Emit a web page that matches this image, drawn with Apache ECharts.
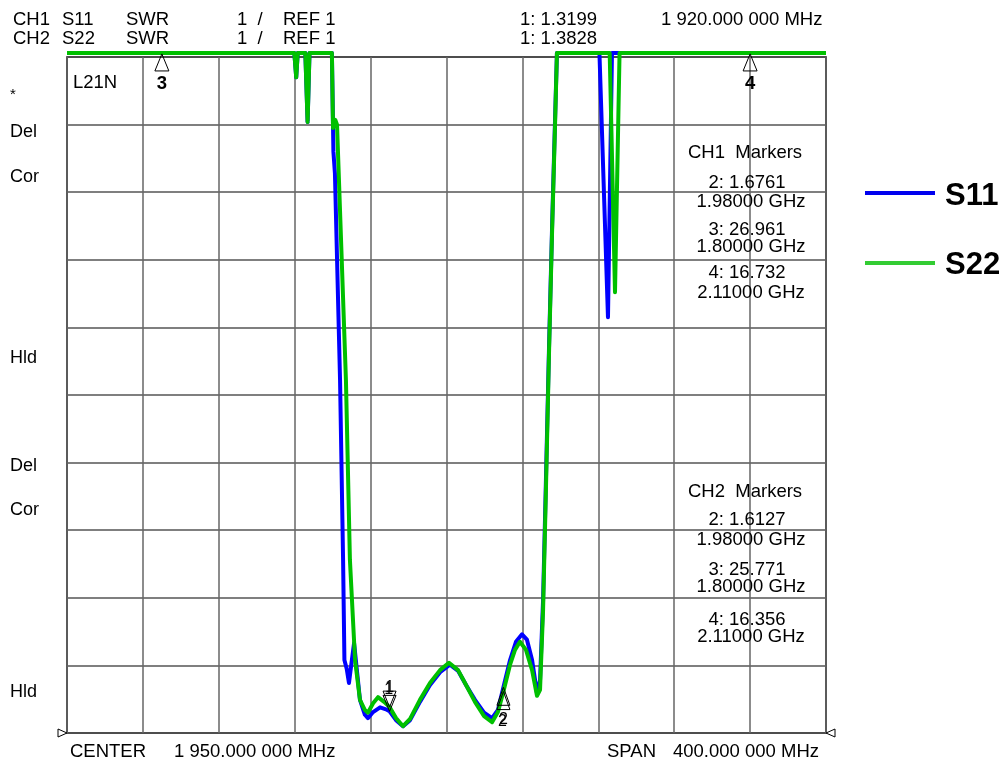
<!DOCTYPE html>
<html>
<head>
<meta charset="utf-8">
<script src="https://cdn.jsdelivr.net/npm/echarts@6/dist/echarts.min.js"></script>
<style>
  html, body { margin: 0; background: #fff; }
  #chart { width: 1004px; height: 763px; }
</style>
</head>
<body>
<div id="chart"></div>
<script>
// frequency axis (MHz) and SWR axis
var freqStart = 1750, freqStop = 2150, freqStep = 40;
var swrRef = 1, swrTop = 11, swrStep = 1;
var swrClip = 11.06; // analyzer draws off-scale values at the top edge

// S11 trace: frequency (MHz) / SWR
var s11Freq = [1750, 1869.8, 1870.8, 1871.6, 1875.6, 1876.8, 1877.8, 1889.6, 1890.4, 1891.2,
  1893.9, 1895.5, 1896.2, 1897.4, 1898.6, 1900.0, 1901.3, 1904.4, 1907.0, 1908.6, 1911.3,
  1915.0, 1918.1, 1920.0, 1923.4, 1927.1, 1930.8, 1936.0, 1941.3, 1946.6, 1951.8, 1956.1,
  1960.3, 1965.0, 1969.8, 1974.0, 1977.1, 1980.0, 1983.5, 1986.6, 1989.8, 1992.4, 1995.1,
  1997.7, 1999.3, 2000.9, 2002.4, 2004.0, 2005.6, 2007.2, 2008.2, 2030.6, 2035.1, 2037.2, 2150];
var s11Swr = [11.06, 11.06, 10.70, 11.06, 11.06, 10.04, 11.06, 11.06, 9.6, 9.28,
  6.22, 3.56, 2.08, 1.95, 1.74, 2.05, 2.33, 1.49, 1.27, 1.22, 1.31,
  1.38, 1.35, 1.3199, 1.19, 1.10, 1.19, 1.46, 1.71, 1.90, 2.01, 1.92,
  1.71, 1.49, 1.30, 1.22, 1.34, 1.6761, 2.08, 2.35, 2.46, 2.38, 2.08,
  1.59, 1.78, 2.97, 4.74, 6.67, 8.44, 10.07, 11.06, 11.06, 7.15, 11.06, 11.06];

// S22 trace: frequency (MHz) / SWR
var s22Freq = [1750, 1869.8, 1870.8, 1871.6, 1875.6, 1876.8, 1877.8, 1889.6, 1890.2, 1891.0,
  1891.4, 1892.3, 1897.0, 1899.1, 1901.8, 1904.4, 1907.0, 1908.6, 1911.3, 1913.9, 1917.1,
  1920.0, 1923.4, 1927.1, 1930.8, 1936.0, 1941.3, 1946.6, 1951.3, 1956.1, 1960.3, 1965.0,
  1969.8, 1974.0, 1977.1, 1980.0, 1983.5, 1986.1, 1988.7, 1991.9, 1995.1, 1997.7, 1999.3,
  2000.9, 2002.4, 2004.0, 2005.6, 2007.2, 2008.2, 2036.0, 2038.8, 2041.2, 2150];
var s22Swr = [11.06, 11.06, 10.70, 11.06, 11.06, 10.04, 11.06, 11.06, 9.95, 9.95,
  10.07, 10.0, 6.22, 3.56, 2.08, 1.49, 1.34, 1.30, 1.44, 1.53, 1.46,
  1.3828, 1.22, 1.10, 1.21, 1.49, 1.74, 1.93, 2.04, 1.93, 1.71, 1.46,
  1.25, 1.16, 1.31, 1.6127, 2.01, 2.23, 2.35, 2.23, 1.93, 1.55, 1.64,
  2.82, 4.59, 6.59, 8.37, 9.99, 11.06, 11.06, 7.52, 11.06, 11.06];

// markers: number, frequency, CH1 value, CH2 value
var markerNo = [1, 2, 3, 4];
var markerFreq = [1920, 1980, 1800, 2110];
var ch1Marker = [1.3199, 1.6761, 26.961, 16.732];
var ch2Marker = [1.3828, 1.6127, 25.771, 16.356];

var headerRow1 = ['CH1', 'S11', 'SWR', '1  /', 'REF 1', '1: 1.3199', '1 920.000 000 MHz'];
var headerRow2 = ['CH2', 'S22', 'SWR', '1  /', 'REF 1', '1: 1.3828'];
var sideLabels = ['*', 'Del', 'Cor', 'Hld', 'Del', 'Cor', 'Hld'];
var footer = ['CENTER', '1 950.000 000 MHz', 'SPAN', '400.000 000 MHz'];

function zip(xs, ys) {
  return xs.map(function (x, i) { return [x, ys[i]]; });
}
function clip(v) { return Math.min(v, swrClip); }

var FONT = '"Liberation Sans", Arial, sans-serif';
var chart = echarts.init(document.getElementById('chart'));

chart.setOption({
  backgroundColor: '#fff',
  animation: false,
  grid: { left: 67, right: 178, top: 57, bottom: 30, show: true, borderColor: '#000', borderWidth: 1.5 },
  xAxis: {
    type: 'value', min: freqStart, max: freqStop, interval: freqStep,
    axisLine: { show: false }, axisTick: { show: false }, axisLabel: { show: false },
    splitLine: { lineStyle: { color: '#666', width: 1.5 } }
  },
  yAxis: {
    type: 'value', min: swrRef, max: swrTop, interval: swrStep,
    axisLine: { show: false }, axisTick: { show: false }, axisLabel: { show: false },
    splitLine: { lineStyle: { color: '#555', width: 1.5 } }
  },
  series: [
    {
      name: 'S11', type: 'line', data: zip(s11Freq, s11Swr), clip: false,
      showSymbol: false, z: 3,
      lineStyle: { color: '#0000ff', width: 4, join: 'round' }
    },
    {
      name: 'S22', type: 'line', data: zip(s22Freq, s22Swr), clip: false,
      showSymbol: false, z: 4,
      lineStyle: { color: '#00c000', width: 4, join: 'round' }
    }
  ]
});

function txt(text, x, y, opts) {
  opts = opts || {};
  return {
    type: 'text', z: 100, x: x, y: y,
    style: {
      text: text, fill: '#000',
      font: (opts.weight || 'normal') + ' ' + (opts.size || 18.5) + 'px ' + FONT,
      textAlign: opts.align || 'left', textVerticalAlign: 'middle'
    }
  };
}
function tri(px, py, up, w, h) {
  var pts = up
    ? [[px, py], [px - w / 2, py + h], [px + w / 2, py + h]]
    : [[px, py], [px - w / 2, py - h], [px + w / 2, py - h]];
  return { type: 'polygon', z: 101, shape: { points: pts },
    style: { fill: 'none', stroke: '#000', lineWidth: 1 } };
}

var g = [];
// header rows
var hx = [13, 62, 126, 237, 283, 520, 661];
headerRow1.forEach(function (t, i) { g.push(txt(t, hx[i], 20)); });
headerRow2.forEach(function (t, i) { g.push(txt(t, hx[i], 39)); });
// left status labels
var sy = [95, 132, 177, 358, 466, 510, 692];
sideLabels.forEach(function (t, i) { g.push(txt(t, 10, sy[i], { size: t === '*' ? 15 : 18 })); });
g.push(txt('L21N', 73, 83));
// footer
var fx = [70, 174, 607, 673];
footer.forEach(function (t, i) { g.push(txt(t, fx[i], 752)); });

// marker tables
function block(ch, vals, y0, ys) {
  g.push(txt(ch + '  Markers', 688, y0, {}));
  [1, 2, 3].forEach(function (k, j) {
    var f = (markerFreq[k] / 1000).toFixed(5);
    g.push(txt(markerNo[k] + ': ' + vals[k], 747, ys[2 * j], { align: 'center' }));
    g.push(txt(f + ' GHz', 751, ys[2 * j + 1], { align: 'center' }));
  });
}
block('CH1', ch1Marker, 153, [183, 202, 230, 247, 273, 293]);
block('CH2', ch2Marker, 492, [520, 540, 570, 587, 620, 637]);

// marker symbols on the traces
[2, 3].forEach(function (k) {
  var p = chart.convertToPixel({ gridIndex: 0 }, [markerFreq[k], clip(ch1Marker[k])]);
  g.push(tri(p[0], p[1] + 1, true, 14, 17));
  g.push(txt(String(markerNo[k]), p[0], p[1] + 31, { weight: 'bold', align: 'center' }));
});
[ch1Marker, ch2Marker].forEach(function (vals, c) {
  var p1 = chart.convertToPixel({ gridIndex: 0 }, [markerFreq[0], vals[0]]);
  g.push(tri(p1[0], p1[1], false, 13, 16));
  g.push(txt('1', p1[0] - 1 + c, p1[1] - 22 + c * 2, { size: 16, align: 'center' }));
  var p2 = chart.convertToPixel({ gridIndex: 0 }, [markerFreq[1], vals[1]]);
  g.push(tri(p2[0], p2[1], true, 13, 18));
  g.push(txt('2', p2[0] - c, p2[1] + 32 - c * 2, { size: 16, align: 'center' }));
});

// reference position arrows at both ends of the bottom line
var pl = chart.convertToPixel({ gridIndex: 0 }, [freqStart, swrRef]);
var pr = chart.convertToPixel({ gridIndex: 0 }, [freqStop, swrRef]);
g.push({ type: 'polygon', z: 101, shape: { points: [[pl[0], pl[1]], [pl[0] - 9, pl[1] - 4], [pl[0] - 9, pl[1] + 4]] },
  style: { fill: '#fff', stroke: '#000', lineWidth: 1 } });
g.push({ type: 'polygon', z: 101, shape: { points: [[pr[0], pr[1]], [pr[0] + 9, pr[1] - 4], [pr[0] + 9, pr[1] + 4]] },
  style: { fill: '#fff', stroke: '#000', lineWidth: 1 } });

// legend
g.push({ type: 'line', z: 100, shape: { x1: 865, y1: 193, x2: 935, y2: 193 }, style: { stroke: '#0000ee', lineWidth: 4 } });
g.push({ type: 'line', z: 100, shape: { x1: 865, y1: 263, x2: 935, y2: 263 }, style: { stroke: '#33cc33', lineWidth: 4 } });
g.push(txt('S11', 945, 196, { size: 31, weight: 'bold' }));
g.push(txt('S22', 945, 265, { size: 31, weight: 'bold' }));

chart.setOption({ graphic: g });
</script>
</body>
</html>
